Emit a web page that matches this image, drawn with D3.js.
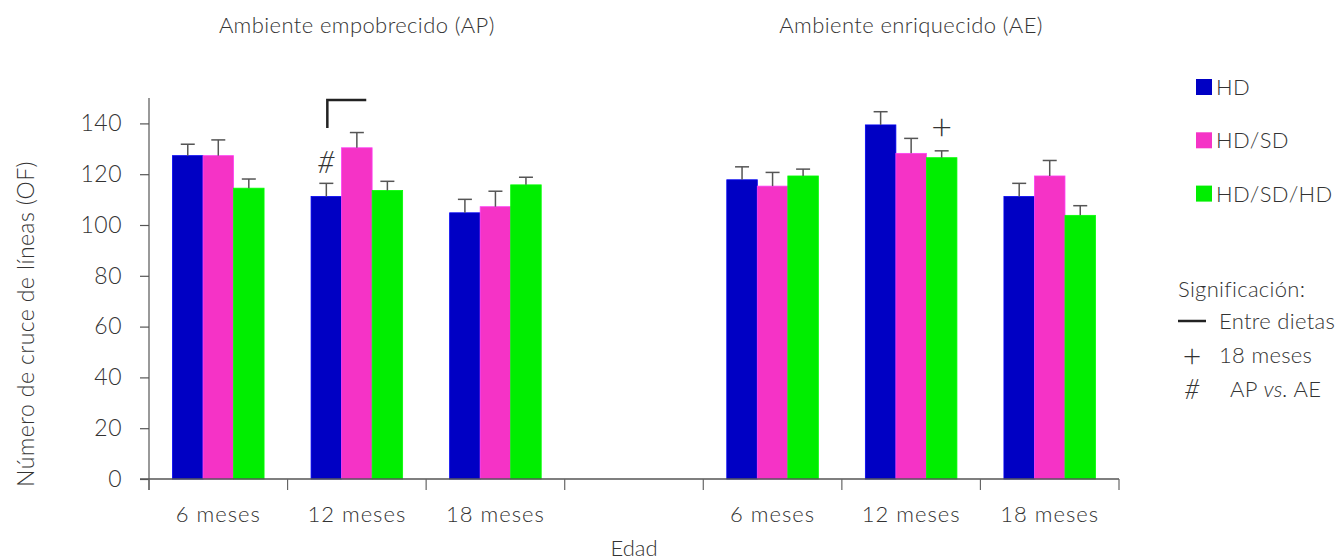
<!DOCTYPE html>
<html>
<head>
<meta charset="utf-8">
<script src="https://cdn.jsdelivr.net/npm/d3@7"></script>
<style>
  body { margin: 0; background: #fff; }
  text { font-family: Lato, "Open Sans", sans-serif; font-weight: 300; fill: #333; }
</style>
</head>
<body>
<div id="Chart"></div>
<script>
// categories along the x axis (one empty slot between the two environments)
var slots = ["AP-6", "AP-12", "AP-18", "gap", "AE-6", "AE-12", "AE-18"];
var slotLabels = ["6 meses", "12 meses", "18 meses", "", "6 meses", "12 meses", "18 meses"];
var series = ["HD", "HD/SD", "HD/SD/HD"];
var colors = ["#0000c4", "#f533c6", "#00ee00"];

// means per slot (gap = null)
var hd      = [127.3, 111.2, 104.8, null, 117.8, 139.4, 111.2];
var hdsd    = [127.3, 130.4, 107.2, null, 115.3, 128.2, 119.3];
var hdsdhd  = [114.5, 113.6, 115.8, null, 119.3, 126.5, 103.8];
// standard errors
var hdErr     = [4.5, 5.2, 5.3, null, 5.1, 5.2, 5.2];
var hdsdErr   = [6.2, 6.0, 6.1, null, 5.4, 5.9, 6.1];
var hdsdhdErr = [3.6, 3.6, 3.0, null, 2.7, 2.7, 3.8];

var yTicks = [0, 20, 40, 60, 80, 100, 120, 140];

// significance marks
var hashMark = {slot: "AP-12", serie: "HD", value: 120.6};
var plusMark = {slot: "AE-12", serie: "HD/SD/HD", value: 133.6};
var bracket = {slot: "AP-12", serie: "HD", top: 149.2, bottom: 138.2, length: 15.3};

var svg = d3.select("#Chart")
            .append("svg")
            .attr("width", 1336)
            .attr("height", 560);

var x = d3.scaleBand()
          .domain(slots)
          .range([149, 1119]);
var xs = d3.scaleBand()
           .domain(series)
           .range([23.5, x.bandwidth() - 23.5]);
var y = d3.scaleLinear()
          .domain([0, 150])
          .range([479, 98]);

var table = slots.map(function(s, i) {
    return {slot: s, vals: [hd[i], hdsd[i], hdsdhd[i]], errs: [hdErr[i], hdsdErr[i], hdsdhdErr[i]]};
}).filter(function(d) { return d.vals[0] !== null; });

// bars
var groups = svg.selectAll("g.group")
    .data(table)
    .enter()
    .append("g")
    .attr("class", "group")
    .attr("transform", function(d) { return "translate(" + x(d.slot) + ",0)"; });

groups.selectAll("rect")
    .data(function(d) { return series.map(function(k, j) { return {key: k, v: d.vals[j], e: d.errs[j], c: colors[j]}; }); })
    .enter()
    .append("rect")
    .attr("x", function(d) { return xs(d.key); })
    .attr("y", function(d) { return y(d.v); })
    .attr("width", xs.bandwidth())
    .attr("height", function(d) { return y(0) - y(d.v); })
    .attr("fill", function(d) { return d.c; })
    .attr("stroke", function(d) { return d3.color(d.c).brighter(0.6); })
    .attr("stroke-width", 0.8);

// error bars
var eb = groups.selectAll("g.err")
    .data(function(d) { return series.map(function(k, j) { return {key: k, v: d.vals[j], e: d.errs[j]}; }); })
    .enter()
    .append("g")
    .attr("class", "err")
    .attr("stroke", "#555")
    .attr("stroke-width", 1.5);
eb.append("line")
    .attr("x1", function(d) { return xs(d.key) + xs.bandwidth() / 2; })
    .attr("x2", function(d) { return xs(d.key) + xs.bandwidth() / 2; })
    .attr("y1", function(d) { return y(d.v); })
    .attr("y2", function(d) { return y(d.v + d.e); });
eb.append("line")
    .attr("x1", function(d) { return xs(d.key) + xs.bandwidth() / 2 - 7; })
    .attr("x2", function(d) { return xs(d.key) + xs.bandwidth() / 2 + 7; })
    .attr("y1", function(d) { return y(d.v + d.e); })
    .attr("y2", function(d) { return y(d.v + d.e); });

// y axis
var yaxis = svg.append("g")
    .attr("transform", "translate(149,0)")
    .call(d3.axisLeft(y).tickValues(yTicks).tickSize(9).tickPadding(18).tickSizeOuter(0));
yaxis.select(".domain").attr("stroke", "#777").attr("stroke-width", 1.5)
    .attr("d", "M0," + y(150) + "V" + (y(0) + 11));
yaxis.selectAll(".tick line").attr("stroke", "#555").attr("stroke-width", 1.2);
yaxis.selectAll(".tick text").style("font-size", "23px").style("letter-spacing", "0.5px")
    .attr("fill", "#333").attr("font-family", null);

// x axis: labels centred, tick marks on slot borders
var xaxis = svg.append("g")
    .attr("transform", "translate(0," + y(0) + ")")
    .call(d3.axisBottom(x).tickSize(0).tickPadding(27)
          .tickFormat(function(d, i) { return slotLabels[i]; }));
xaxis.select(".domain").attr("stroke", "#555").attr("stroke-width", 1.5)
    .attr("d", "M140,0H1119");
xaxis.selectAll(".tick text").style("font-size", "22px").style("letter-spacing", "1px")
    .attr("fill", "#333").attr("font-family", null);
xaxis.selectAll("line.border")
    .data(slots.concat(["end"]))
    .enter()
    .append("line")
    .attr("class", "border")
    .attr("x1", function(d, i) { return x.range()[0] + i * x.step(); })
    .attr("x2", function(d, i) { return x.range()[0] + i * x.step(); })
    .attr("y1", 0)
    .attr("y2", 11)
    .attr("stroke", "#666")
    .attr("stroke-width", 1.2);

// axis titles
svg.append("text")
    .attr("x", (x.range()[0] + x.range()[1]) / 2)
    .attr("y", 556)
    .attr("text-anchor", "middle")
    .style("font-size", "22px")
    .text("Edad");
svg.append("text")
    .attr("transform", "translate(34,324) rotate(-90)")
    .attr("text-anchor", "middle")
    .style("font-size", "23px")
    .style("letter-spacing", "0.4px")
    .text("Número de cruce de líneas (OF)");

// environment titles
svg.append("text")
    .attr("x", x("AP-12") + x.bandwidth() / 2)
    .attr("y", 33)
    .attr("text-anchor", "middle")
    .style("font-size", "22px")
    .style("letter-spacing", "0.4px")
    .text("Ambiente empobrecido (AP)");
svg.append("text")
    .attr("x", x("AE-12") + x.bandwidth() / 2)
    .attr("y", 33)
    .attr("text-anchor", "middle")
    .style("font-size", "22px")
    .style("letter-spacing", "0.4px")
    .text("Ambiente enriquecido (AE)");

// significance marks
svg.append("text")
    .attr("x", x(hashMark.slot) + xs(hashMark.serie) + xs.bandwidth() / 2)
    .attr("y", y(hashMark.value))
    .attr("text-anchor", "middle")
    .style("font-size", "31px")
    .style("font-style", "italic")
    .text("#");
svg.append("text")
    .attr("x", x(plusMark.slot) + xs(plusMark.serie) + xs.bandwidth() / 2)
    .attr("y", y(plusMark.value))
    .attr("text-anchor", "middle")
    .style("font-size", "36px")
    .text("+");
var bx = x(bracket.slot) + xs(bracket.serie) + xs.bandwidth() / 2 + 1;
svg.append("path")
    .attr("d", "M" + bx + "," + y(bracket.bottom) + "V" + y(bracket.top) + "H" + (bx + xs.bandwidth() * bracket.length / 12))
    .attr("fill", "none")
    .attr("stroke", "#222")
    .attr("stroke-width", 2.5);

// legend
var legend = svg.selectAll("g.legend")
    .data(series)
    .enter()
    .append("g")
    .attr("class", "legend")
    .attr("transform", function(d, i) { return "translate(1196," + (87 + i * 53.3) + ")"; });
legend.append("rect")
    .attr("x", 0).attr("y", -8)
    .attr("width", 16).attr("height", 16)
    .attr("fill", function(d, i) { return colors[i]; });
legend.append("text")
    .attr("x", 20).attr("y", 8)
    .style("font-size", "22px")
    .style("letter-spacing", "0.3px")
    .text(function(d) { return d; });

var sig = svg.append("g").attr("transform", "translate(1178,0)");
sig.append("text").attr("x", 0).attr("y", 297).style("font-size", "22px").style("letter-spacing", "0.3px").text("Significación:");
sig.append("line").attr("x1", 0).attr("x2", 28).attr("y1", 321).attr("y2", 321)
    .attr("stroke", "#222").attr("stroke-width", 2.5);
sig.append("text").attr("x", 41).attr("y", 329).style("font-size", "22px").style("letter-spacing", "0.3px").text("Entre dietas");
sig.append("text").attr("x", 14).attr("y", 367).attr("text-anchor", "middle").style("font-size", "32px").text("+");
sig.append("text").attr("x", 41).attr("y", 363).style("font-size", "22px").style("letter-spacing", "0.3px").text("18 meses");
sig.append("text").attr("x", 14).attr("y", 399).attr("text-anchor", "middle").style("font-size", "27px").style("font-style", "italic").text("#");
var ap = sig.append("text").attr("x", 52).attr("y", 397).style("font-size", "22px").style("letter-spacing", "0.3px");
ap.append("tspan").text("AP ");
ap.append("tspan").style("font-style", "italic").text("vs.");
ap.append("tspan").text(" AE");
</script>
</body>
</html>
